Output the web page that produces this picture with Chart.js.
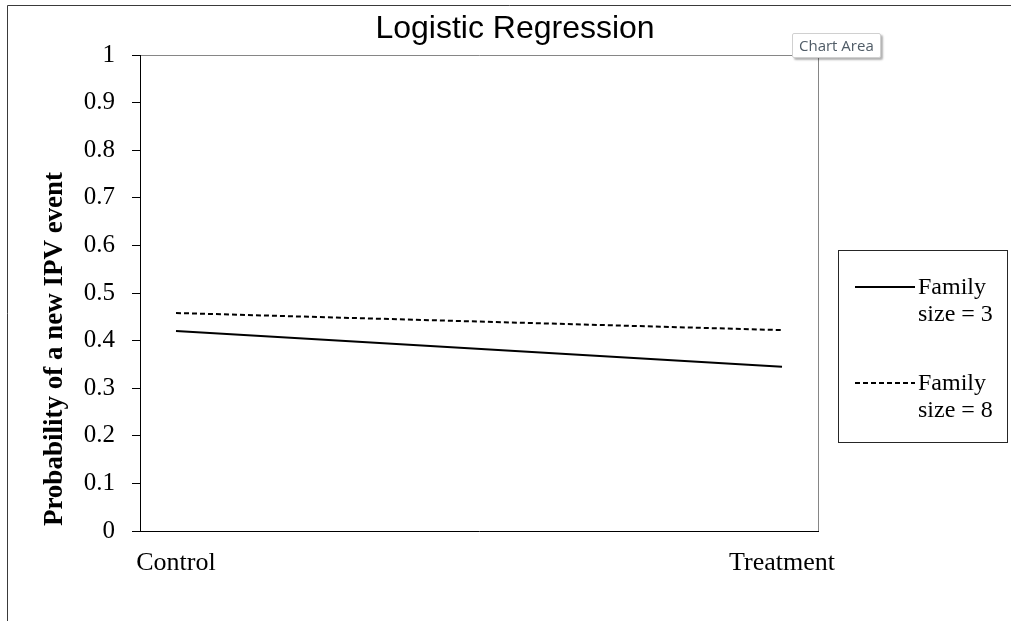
<!DOCTYPE html>
<html>
<head>
<meta charset="utf-8">
<title>Logistic Regression</title>
<script src="https://cdn.jsdelivr.net/npm/chart.js@4/dist/chart.umd.min.js"></script>
<style>
    html, body { margin: 0; padding: 0; background: #fff; }
    #wrap { position: relative; width: 1011px; height: 621px; }
    #tip {
        position: absolute; left: 792px; top: 33px;
        padding: 1px 6px; font: 15px/21px "Open Sans", sans-serif; color: #4f5b66;
        background: #fff; border: 1px solid #d0d0d0; border-radius: 2px;
        box-shadow: 2px 2px 2px rgba(0, 0, 0, 0.3);
    }
</style>
</head>
<body>
<div id="wrap">
    <canvas id="chart" width="1011" height="621"></canvas>
    <div id="tip">Chart Area</div>
</div>
<script>
const categories = ['Control', 'Treatment'];
const familySize3 = [0.42, 0.345];
const familySize8 = [0.458, 0.422];
const seriesLabels = ['Family size = 3', 'Family size = 8'];
const yTicks = [0, 0.1, 0.2, 0.3, 0.4, 0.5, 0.6, 0.7, 0.8, 0.9, 1];
const chartTitle = 'Logistic Regression';
const yTitle = 'Probability of a new IPV event';

const serif = 'Liberation Serif, "Times New Roman", serif';

function toPoints(values) {
    return values.map((v, i) => ({ x: i, y: v }));
}

// outer frame + gray top/right border of the plot area
const framePlugin = {
    id: 'frame',
    beforeDraw(chart) {
        let ctx = chart.ctx;
        let area = chart.chartArea;
        ctx.save();
        ctx.strokeStyle = '#3a3a3a';
        ctx.lineWidth = 1;
        ctx.beginPath();
        ctx.moveTo(7.5, 621);
        ctx.lineTo(7.5, 5.5);
        ctx.lineTo(1011, 5.5);
        ctx.stroke();
        ctx.strokeStyle = '#868686';
        ctx.beginPath();
        ctx.moveTo(area.left, Math.round(area.top) + 0.5);
        ctx.lineTo(Math.round(area.right) + 0.5, Math.round(area.top) + 0.5);
        ctx.lineTo(Math.round(area.right) + 0.5, area.bottom);
        ctx.stroke();
        ctx.restore();
    }
};

// chart title and y axis title (Excel places them off the plot centre)
const titlesPlugin = {
    id: 'titles',
    afterDraw(chart) {
        let ctx = chart.ctx;
        ctx.save();
        ctx.fillStyle = '#000';
        ctx.textAlign = 'center';
        ctx.textBaseline = 'middle';
        ctx.font = '32px Liberation Sans, Arial, sans-serif';
        ctx.fillText(chartTitle, 515, 29);
        ctx.translate(55, 349);
        ctx.rotate(-Math.PI / 2);
        ctx.font = 'bold 27px ' + serif;
        ctx.fillText(yTitle, 0, 0);
        ctx.restore();
    }
};

// legend box with wrapped labels
const legendPlugin = {
    id: 'boxLegend',
    afterDraw(chart) {
        let ctx = chart.ctx;
        ctx.save();
        ctx.strokeStyle = '#262626';
        ctx.lineWidth = 1;
        ctx.strokeRect(838.5, 250.5, 169, 192);
        ctx.font = '24px ' + serif;
        ctx.fillStyle = '#000';
        ctx.textBaseline = 'middle';
        let rows = [287, 383];
        chart.data.datasets.forEach((ds, i) => {
            let y = rows[i];
            ctx.beginPath();
            ctx.lineWidth = 2;
            ctx.strokeStyle = '#000';
            ctx.setLineDash(ds.borderDash || []);
            ctx.moveTo(855, y);
            ctx.lineTo(915, y);
            ctx.stroke();
            ctx.setLineDash([]);
            let text = ds.label;
            let cut = text.indexOf(' ');
            ctx.fillText(text.substring(0, cut), 918, y + 1);
            ctx.fillText(text.substring(cut + 1), 918, y + 28);
        });
        ctx.restore();
    }
};

new Chart(document.getElementById('chart'), {
    type: 'line',
    data: {
        datasets: [{
            label: seriesLabels[0],
            data: toPoints(familySize3),
            borderColor: '#000',
            borderWidth: 2,
            pointRadius: 0,
            fill: false
        }, {
            label: seriesLabels[1],
            data: toPoints(familySize8),
            borderColor: '#000',
            borderWidth: 2,
            borderDash: [5, 3],
            pointRadius: 0,
            fill: false
        }]
    },
    options: {
        responsive: false,
        animation: false,
        layout: { padding: { left: 8, right: 193, top: 55, bottom: 0 } },
        plugins: {
            legend: { display: false },
            tooltip: { enabled: false },
            title: { display: false }
        },
        scales: {
            x: {
                type: 'linear',
                min: -0.0594,
                max: 1.0594,
                afterBuildTicks: scale => {
                    scale.ticks = categories.map((c, i) => ({ value: i }));
                },
                afterFit: scale => { scale.height = 90; },
                grid: { display: false, drawTicks: false },
                border: { display: true, color: '#000', width: 1 },
                ticks: {
                    color: '#000',
                    padding: 17,
                    maxRotation: 0,
                    font: { family: serif, size: 26 },
                    callback: value => categories[value]
                }
            },
            y: {
                min: 0,
                max: 1,
                afterBuildTicks: scale => {
                    scale.ticks = yTicks.map(v => ({ value: v }));
                },
                afterFit: scale => { scale.width = 132; },
                grid: { drawOnChartArea: false, drawTicks: true, tickLength: 8, color: '#000' },
                border: { display: true, color: '#000', width: 1 },
                ticks: {
                    color: '#000',
                    padding: 17,
                    font: { family: serif, size: 25 },
                    callback: value => String(Math.round(value * 10) / 10)
                }
            }
        }
    },
    plugins: [framePlugin, titlesPlugin, legendPlugin]
});
</script>
</body>
</html>
